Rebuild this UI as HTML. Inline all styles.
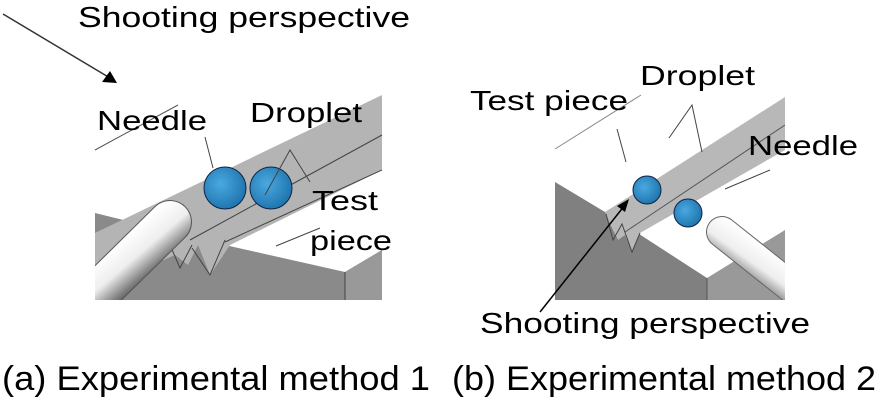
<!DOCTYPE html>
<html><head><style>body{margin:0;background:#fff}svg{display:block}</style></head><body>
<svg width="876" height="400" viewBox="0 0 876 400" xmlns="http://www.w3.org/2000/svg" font-family="Liberation Sans, sans-serif">
<defs>
<linearGradient id="cyl" gradientUnits="userSpaceOnUse" x1="120" y1="240" x2="150" y2="275"><stop offset="0" stop-color="#fff"/><stop offset="0.5" stop-color="#eee"/><stop offset="1" stop-color="#666"/></linearGradient>
<linearGradient id="cyl2" gradientUnits="userSpaceOnUse" x1="765" y1="245" x2="740" y2="280"><stop offset="0" stop-color="#fff"/><stop offset="0.5" stop-color="#eee"/><stop offset="1" stop-color="#666"/></linearGradient>
<radialGradient id="drop" cx="0.4" cy="0.4" r="0.7"><stop offset="0" stop-color="#4aa8e0"/><stop offset="1" stop-color="#1a6fa8"/></radialGradient>
<clipPath id="cl"><rect x="95" y="0" width="287" height="300"/></clipPath>
<clipPath id="cr"><rect x="555" y="0" width="230" height="300"/></clipPath>
</defs>
<!-- Left panel -->
<polygon points="95,213 225,245 345,272 382,250 382,300 95,300" fill="#8a8a8a"/>
<polygon points="345,272 382,250 382,300 345,300" fill="#999"/>
<line x1="345" y1="272" x2="345" y2="300" stroke="#444"/>
<polygon points="95,233 382,95 382,170 230,245 210,275 198,245 188,265 175,255 95,290" fill="#b4b4b4"/>
<polyline points="170,245 180,268 192,245" fill="none" stroke="#444"/>
<polyline points="192,248 210,275 225,240" fill="none" stroke="#444"/>
<line x1="190" y1="240" x2="382" y2="135" stroke="#444"/>
<line x1="225" y1="242" x2="382" y2="170" stroke="#444"/>
<g clip-path="url(#cl)">
<line x1="40" y1="350" x2="170" y2="222" stroke="#555" stroke-width="44" stroke-linecap="round"/>
<line x1="40" y1="350" x2="170" y2="222" stroke="url(#cyl)" stroke-width="42" stroke-linecap="round"/>
</g>
<circle cx="225" cy="188" r="21" fill="url(#drop)" stroke="#124"/>
<circle cx="271" cy="188" r="21" fill="url(#drop)" stroke="#124"/>
<line x1="95" y1="150" x2="178" y2="105" stroke="#555"/>
<line x1="205" y1="137" x2="213" y2="168" stroke="#444"/>
<polyline points="265,195 290,150 310,182" fill="none" stroke="#444"/>
<line x1="276" y1="246" x2="320" y2="228" stroke="#444"/>
<line x1="3" y1="14" x2="110" y2="78" stroke="#333" stroke-width="1.5"/>
<polygon points="117,83 102,82 110,71" fill="#000"/>
<text x="78" y="27" font-size="29" textLength="332" lengthAdjust="spacingAndGlyphs">Shooting perspective</text>
<text x="97" y="130" font-size="28" textLength="110" lengthAdjust="spacingAndGlyphs">Needle</text>
<text x="250" y="122" font-size="28" textLength="112" lengthAdjust="spacingAndGlyphs">Droplet</text>
<text x="312" y="210" font-size="28" textLength="66" lengthAdjust="spacingAndGlyphs">Test</text>
<text x="310" y="250" font-size="28" textLength="82" lengthAdjust="spacingAndGlyphs">piece</text>
<!-- Right panel -->
<polygon points="555,182 605,212 707,278 707,300 555,300" fill="#808080"/>
<polygon points="707,278 785,230 785,300 707,300" fill="#999"/>
<line x1="707" y1="278" x2="707" y2="300" stroke="#555"/>
<polygon points="605,212 785,97 785,150 640,233 632,252 625,235 618,240 612,228" fill="#b8b8b8"/>
<line x1="625" y1="232" x2="785" y2="125" stroke="#555"/>
<polyline points="606,214 613,240 622,224 632,252 640,233" fill="none" stroke="#444"/>
<g clip-path="url(#cr)">
<line x1="722" y1="232" x2="820" y2="310" stroke="#666" stroke-width="32" stroke-linecap="round"/>
<line x1="722" y1="232" x2="820" y2="310" stroke="url(#cyl2)" stroke-width="30" stroke-linecap="round"/>
</g>
<circle cx="647" cy="190" r="14" fill="url(#drop)" stroke="#124"/>
<circle cx="688" cy="213" r="14" fill="url(#drop)" stroke="#124"/>
<line x1="555" y1="149" x2="641" y2="95" stroke="#888"/>
<line x1="617" y1="129" x2="626" y2="162" stroke="#444"/>
<polyline points="669,138 692,105 702,152" fill="none" stroke="#444"/>
<line x1="725" y1="189" x2="770" y2="170" stroke="#444"/>
<line x1="540" y1="312" x2="625" y2="205" stroke="#000" stroke-width="1.5"/>
<polygon points="629,199 625,212 617,206" fill="#000"/>
<text x="470" y="110" font-size="28" textLength="158" lengthAdjust="spacingAndGlyphs">Test piece</text>
<text x="640" y="85" font-size="28" textLength="115" lengthAdjust="spacingAndGlyphs">Droplet</text>
<text x="748" y="155" font-size="28" textLength="110" lengthAdjust="spacingAndGlyphs">Needle</text>
<text x="480" y="333" font-size="29" textLength="330" lengthAdjust="spacingAndGlyphs">Shooting perspective</text>
<text x="2" y="390" font-size="34" textLength="428" lengthAdjust="spacingAndGlyphs">(a) Experimental method 1</text>
<text x="452" y="390" font-size="34" textLength="424" lengthAdjust="spacingAndGlyphs">(b) Experimental method 2</text>
</svg>
</body></html>
